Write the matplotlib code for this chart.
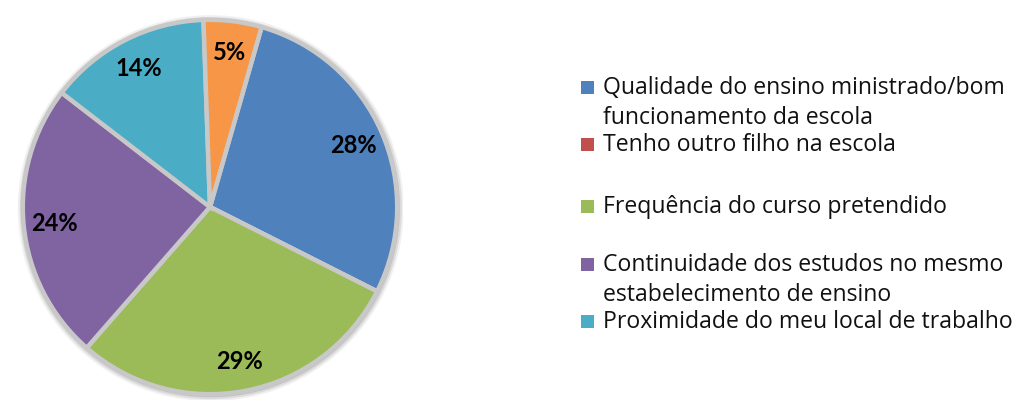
import matplotlib
matplotlib.use("Agg")
import matplotlib.pyplot as plt
from matplotlib.patches import Circle, Rectangle
import numpy as np

categories = [
    "Qualidade do ensino ministrado/bom\nfuncionamento da escola",
    "Tenho outro filho na escola",
    "Frequência do curso pretendido",
    "Continuidade dos estudos no mesmo\nestabelecimento de ensino",
    "Proximidade do meu local de trabalho",
    "Outro",
]
values = [28, 0, 29, 24, 14, 5]
colors = ["#4F81BD", "#C0504D", "#9BBB59", "#8064A2", "#4BACC6", "#F79646"]
legend_count = 5

W, H = 1017, 410
fig = plt.figure(figsize=(W / 100, H / 100), dpi=100)
fig.patch.set_facecolor("white")

cx, cy, r = 210, 208, 193
ax = fig.add_axes([(cx - r) / W, (H - cy - r) / H, 2 * r / W, 2 * r / H])

wedges, texts = ax.pie(values, colors=colors, startangle=74, counterclock=False,
                       radius=0.97,
                       wedgeprops=dict(edgecolor="#c8c8c8", linewidth=3.2))
ax.set_xlim(-1, 1)
ax.set_ylim(-1, 1)
ax.set_aspect("equal")
ax.axis("off")

# soft shadow ring
for rr, a in [(1.0, 0.15), (0.99, 0.25), (0.98, 0.4)]:
    ax.add_patch(Circle((0.004, -0.006), rr, color="#a0a0a0", alpha=a, zorder=0, lw=0))

total = sum(values)
ang = 74.0
for v in values:
    span = 360.0 * v / total
    mid = np.deg2rad(ang - span / 2)
    if v > 0:
        d = 0.81
        ax.text(d * np.cos(mid), d * np.sin(mid), f"{v}%",
                ha="center", va="center", fontsize=17, fontweight="bold",
                family="Lato", color="black")
    ang -= span

# legend drawn manually to match spacing
leg_y = [88, 145, 207, 265, 322]
for i in range(legend_count):
    y = leg_y[i]
    fig.patches.append(Rectangle((581 / W, (H - y - 7) / H), 13 / W, 13 / H,
                                 transform=fig.transFigure, facecolor=colors[i],
                                 edgecolor="none"))
    lines = categories[i].split("\n")
    for j, line in enumerate(lines):
        fig.text(603 / W, (H - y - 30 * j) / H, line, ha="left", va="center",
                 fontsize=16.6, family="Open Sans", color="#111111")

fig.savefig("out.png", dpi=100)
